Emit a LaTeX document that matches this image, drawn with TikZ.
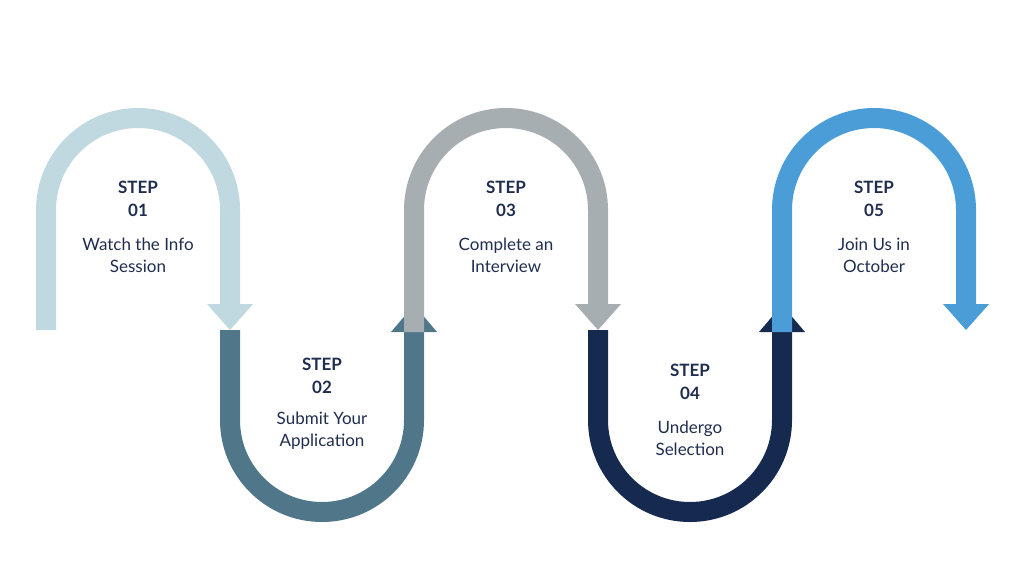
\documentclass[tikz,border=0pt]{standalone}
\usepackage{fontspec}
\setmainfont{Lato}
\definecolor{cA}{HTML}{C0D8DF}
\definecolor{cB}{HTML}{50768A}
\definecolor{cC}{HTML}{A7AEB2}
\definecolor{cD}{HTML}{152A4E}
\definecolor{cE}{HTML}{4A9DD6}
\definecolor{txt}{HTML}{1F2D4E}
\begin{document}
\begin{tikzpicture}[x=1pt,y=-1pt,
  band/.style={line width=20pt},
  steplbl/.style={align=center,font=\fontsize{17}{23}\selectfont\bfseries,text=txt},
  desc/.style={align=center,font=\fontsize{17}{22}\selectfont,text=txt}]
\useasboundingbox (0,0) rectangle (1024,576);
% arc 1
\draw[band,cA] (46,330) -- (46,210) arc[start angle=180,end angle=360,radius=92] -- (230,306);
\fill[cA] (207,304) -- (253,304) -- (230,330) -- cycle;
% arc 2
\draw[band,cB] (230,330) -- (230,420) arc[start angle=180,end angle=0,radius=92] -- (414,330);
\fill[cB] (391,332) -- (437,332) -- (414,305) -- cycle;
% arc 3
\draw[band,cC] (414,332) -- (414,210) arc[start angle=180,end angle=360,radius=92] -- (598,306);
\fill[cC] (575,304) -- (621,304) -- (598,330) -- cycle;
% arc 4
\draw[band,cD] (598,330) -- (598,420) arc[start angle=180,end angle=0,radius=92] -- (782,330);
\fill[cD] (759,332) -- (805,332) -- (782,305) -- cycle;
% arc 5
\draw[band,cE] (782,332) -- (782,210) arc[start angle=180,end angle=360,radius=92] -- (966,306);
\fill[cE] (943,304) -- (989,304) -- (966,330) -- cycle;
% texts
\node[steplbl] (s1) at (138,199) {STEP\\01};
\node[desc] (d1) at (138,255) {Watch the Info\\Session};
\node[steplbl] (s2) at (322,376) {STEP\\02};
\node[desc] (d2) at (322,431) {Submit Your\\Application};
\node[steplbl] (s3) at (506,199) {STEP\\03};
\node[desc] (d3) at (506,255) {Complete an\\Interview};
\node[steplbl] (s4) at (690,382) {STEP\\04};
\node[desc] (d4) at (690,438) {Undergo\\Selection};
\node[steplbl] (s5) at (874,199) {STEP\\05};
\node[desc] (d5) at (874,255) {Join Us in\\October};
\end{tikzpicture}
\end{document}
